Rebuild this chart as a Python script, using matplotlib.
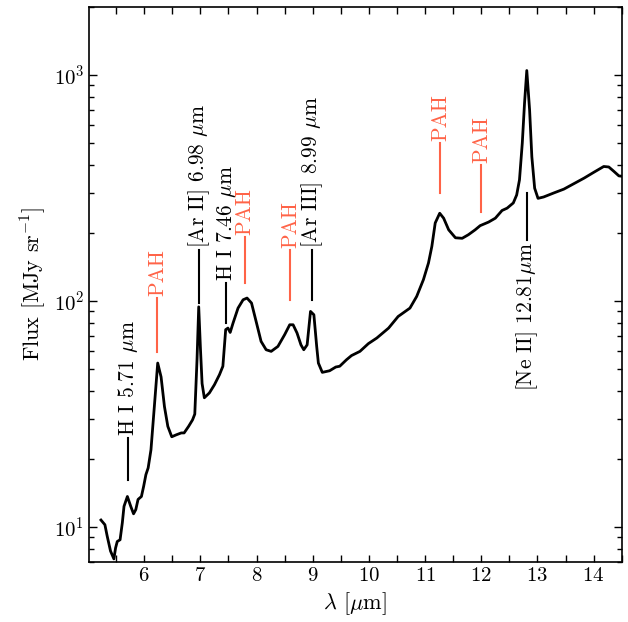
"""Spectrum with line and PAH feature labels."""

import matplotlib
matplotlib.use("Agg")
import matplotlib.pyplot as plt
from matplotlib.ticker import MultipleLocator

plt.rcParams['font.family'] = 'serif'
plt.rcParams['font.serif'] = ['cmr10']
plt.rcParams['mathtext.fontset'] = 'cm'
plt.rcParams['axes.unicode_minus'] = False
plt.rcParams['axes.formatter.use_mathtext'] = True
plt.rcParams['font.size'] = 16
plt.rcParams['xtick.labelsize'] = 15
plt.rcParams['ytick.labelsize'] = 15

# Spectrum
wavelength = [5.23, 5.30, 5.34, 5.40, 5.46, 5.49, 5.52, 5.57, 5.61, 5.64,
              5.70, 5.76, 5.81, 5.85, 5.89, 5.95, 5.99, 6.03, 6.07, 6.12,
              6.18, 6.24, 6.30, 6.36, 6.42, 6.49, 6.57, 6.66, 6.71, 6.79,
              6.86, 6.90, 6.94, 6.97, 7.00, 7.03, 7.07, 7.16, 7.25, 7.34,
              7.40, 7.45, 7.49, 7.53, 7.58, 7.67, 7.76, 7.83, 7.91, 8.00,
              8.08, 8.17, 8.26, 8.38, 8.50, 8.59, 8.65, 8.72, 8.79, 8.84,
              8.90, 8.96, 9.02, 9.07, 9.10, 9.17, 9.30, 9.41, 9.48, 9.60,
              9.69, 9.84, 9.99, 10.14, 10.35, 10.52, 10.73, 10.85, 10.97, 11.06,
              11.12, 11.18, 11.26, 11.33, 11.42, 11.54, 11.66, 11.77, 11.89, 11.98,
              12.13, 12.25, 12.37, 12.46, 12.57, 12.63, 12.68, 12.73, 12.77, 12.81,
              12.86, 12.90, 12.95, 13.01, 13.11, 13.29, 13.47, 13.65, 13.83, 14.00,
              14.18, 14.27, 14.36, 14.45, 14.54]
flux = [10.7, 10.2, 9.1, 7.8, 7.2, 8.05, 8.6, 8.75, 10.4, 12.3,
        13.6, 12.3, 11.4, 11.9, 13.2, 13.6, 15.1, 17.0, 18.2, 21.9,
        34, 53, 46, 34, 27.8, 25, 25.5, 26, 26, 27.8,
        29.7, 31.5, 55, 94, 62, 43, 37.2, 39.1, 42.5, 47.1,
        51.3, 74.5, 75.7, 72.4, 79.5, 92.8, 101, 102.8, 97.7, 79.5,
        66.1, 60.7, 59.7, 62.8, 70.8, 78.3, 78.3, 72, 63.8, 60.7,
        63.8, 89.7, 86.7, 62.8, 53, 48.2, 49, 50.9, 51.3, 54.8,
        57.2, 59.7, 64.6, 68.4, 75.7, 85.2, 92.8, 104.5, 124, 147,
        174, 221, 244, 232, 206, 190, 189, 196, 206, 215,
        223, 232, 251, 257, 271, 294, 343, 499, 750, 1045,
        700, 434, 315, 284, 288, 300, 312, 330, 349, 370,
        393, 391, 374, 357, 355]

# Feature markers
feat_x = [5.71, 6.23, 6.98, 7.46, 7.79, 8.60, 8.99, 11.27, 12.00, 12.81]
feat_lo = [16.1, 59.5, 98, 80, 120, 101, 101, 301, 248, 186]
feat_hi = [24.8, 103, 168, 120, 192, 168, 168, 500, 398, 301]
feat_label = [r"H I 5.71 $\mu$m", "PAH", r"[Ar II] 6.98 $\mu$m",
              r"H I 7.46 $\mu$m", "PAH", "PAH", r"[Ar III] 8.99 $\mu$m",
              "PAH", "PAH", r"[Ne II] 12.81$\mu$m"]
feat_is_pah = [False, True, False, False, True, True, False, True, True, False]
feat_below = [False] * 9 + [True]

PAH_COLOR = 'tomato'

fig = plt.figure(figsize=(6.28, 6.22), dpi=100)
ax = fig.add_axes([0.142, 0.097, 0.848, 0.892])

ax.plot(wavelength, flux, color='black', lw=2.0)

for x, lo, hi, lab, pah, below in zip(feat_x, feat_lo, feat_hi, feat_label,
                                      feat_is_pah, feat_below):
    c = PAH_COLOR if pah else 'black'
    ax.plot([x, x], [lo, hi], color=c, lw=1.5)
    if below:
        ax.text(x, lo / 1.02, lab, rotation=90, ha='center', va='top',
                color=c, fontsize=15.5)
    else:
        ax.text(x, hi * 1.02, lab, rotation=90, ha='center', va='bottom',
                color=c, fontsize=15.5)

ax.set_yscale('log')
ax.set_xlim(5.02, 14.5)
ax.set_ylim(7.0, 2000)
ax.xaxis.set_major_locator(MultipleLocator(1))
ax.xaxis.set_minor_locator(MultipleLocator(0.5))
ax.tick_params(which='both', direction='in', top=True, right=True, width=1.0)
ax.tick_params(axis='x', which='both', length=5)
ax.tick_params(axis='y', which='major', length=6)
ax.tick_params(axis='y', which='minor', length=3.5)
for s in ax.spines.values():
    s.set_linewidth(1.2)

ax.set_xlabel(r"$\lambda$ [$\mu$m]")
ax.set_ylabel(r"Flux [MJy sr$^{-1}$]")

plt.savefig("out.png", dpi=100)
